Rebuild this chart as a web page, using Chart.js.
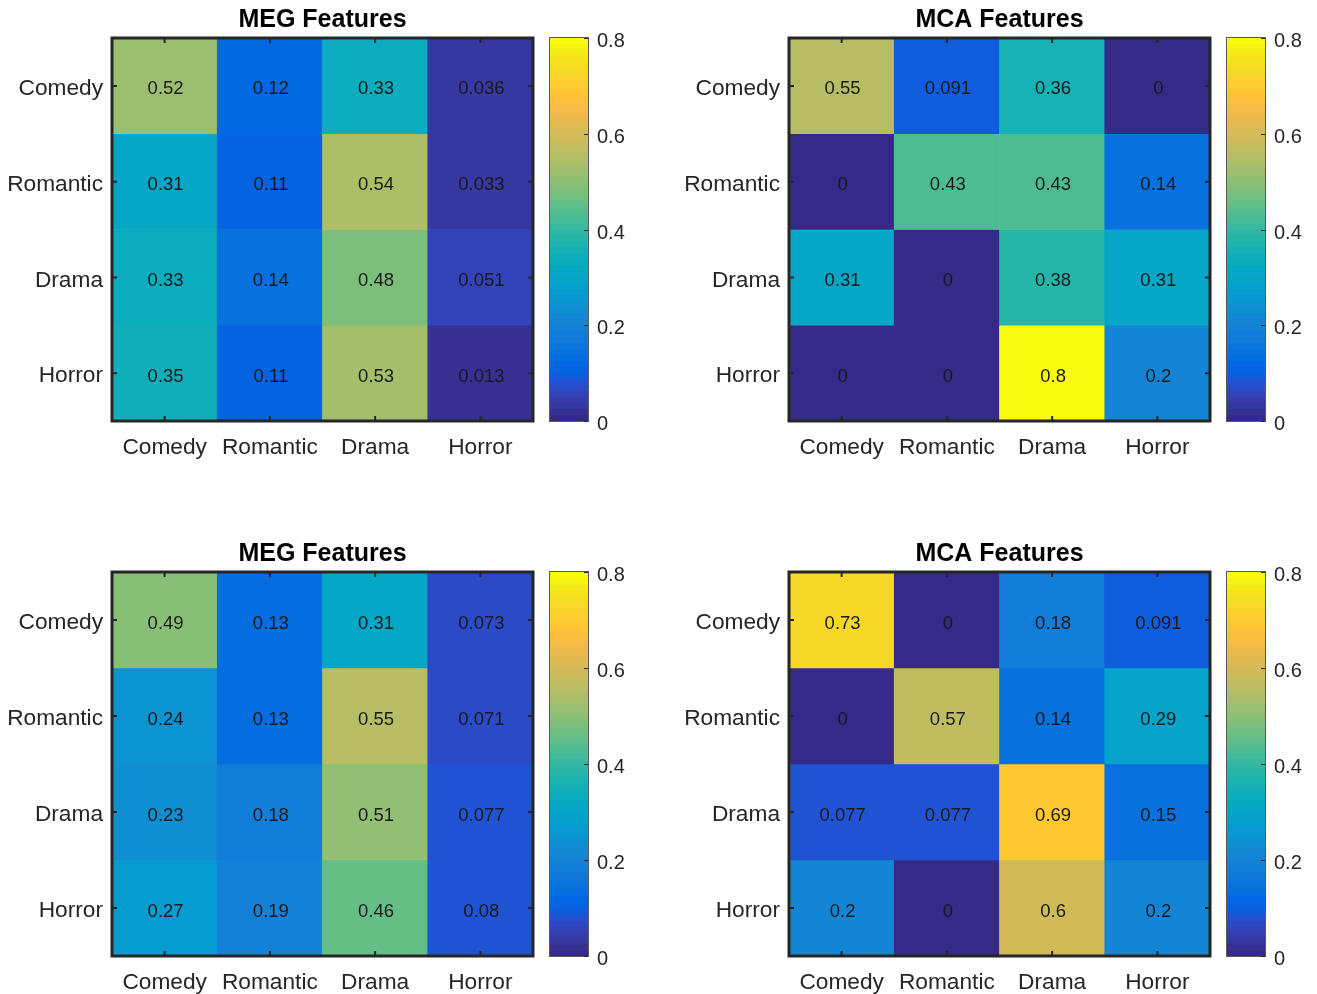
<!DOCTYPE html>
<html>
<head>
<meta charset="utf-8">
<script src="https://cdn.jsdelivr.net/npm/chart.js@4.4.1/dist/chart.umd.min.js"></script>
<style>
  html, body { margin: 0; padding: 0; background: #ffffff; }
  body { width: 1317px; height: 994px; position: relative; overflow: hidden; }
  canvas { position: absolute; display: block; }
</style>
</head>
<body>
<script>
// Category labels shared by both axes of every matrix
const genres = ['Comedy', 'Romantic', 'Drama', 'Horror'];

// Colour-bar tick values (the colour limits run from the first to the last)
const colorbarTicks = [0, 0.2, 0.4, 0.6, 0.8];

// Rows = true genre, columns = predicted genre
const megTop = [
  [0.52, 0.12, 0.33, 0.036],
  [0.31, 0.11, 0.54, 0.033],
  [0.33, 0.14, 0.48, 0.051],
  [0.35, 0.11, 0.53, 0.013]
];
const mcaTop = [
  [0.55, 0.091, 0.36, 0],
  [0, 0.43, 0.43, 0.14],
  [0.31, 0, 0.38, 0.31],
  [0, 0, 0.8, 0.2]
];
const megBottom = [
  [0.49, 0.13, 0.31, 0.073],
  [0.24, 0.13, 0.55, 0.071],
  [0.23, 0.18, 0.51, 0.077],
  [0.27, 0.19, 0.46, 0.08]
];
const mcaBottom = [
  [0.73, 0, 0.18, 0.091],
  [0, 0.57, 0.14, 0.29],
  [0.077, 0.077, 0.69, 0.15],
  [0.2, 0, 0.6, 0.2]
];

// 64-step parula colour map
const PARULA = [
[0.2081,0.1663,0.5292],[0.2116,0.1898,0.5777],[0.2123,0.2138,0.6270],[0.2081,0.2386,0.6771],
[0.1959,0.2645,0.7279],[0.1707,0.2919,0.7792],[0.1253,0.3242,0.8303],[0.0591,0.3598,0.8683],
[0.0117,0.3875,0.8820],[0.0060,0.4086,0.8828],[0.0165,0.4266,0.8786],[0.0329,0.4430,0.8720],
[0.0498,0.4586,0.8641],[0.0629,0.4737,0.8554],[0.0723,0.4887,0.8467],[0.0779,0.5040,0.8384],
[0.0793,0.5200,0.8312],[0.0749,0.5375,0.8263],[0.0641,0.5570,0.8240],[0.0488,0.5772,0.8228],
[0.0343,0.5966,0.8199],[0.0265,0.6137,0.8135],[0.0239,0.6287,0.8038],[0.0231,0.6418,0.7913],
[0.0228,0.6535,0.7768],[0.0267,0.6642,0.7607],[0.0384,0.6743,0.7436],[0.0590,0.6838,0.7254],
[0.0843,0.6928,0.7062],[0.1133,0.7015,0.6859],[0.1453,0.7098,0.6646],[0.1801,0.7177,0.6424],
[0.2178,0.7250,0.6193],[0.2586,0.7317,0.5954],[0.3022,0.7376,0.5712],[0.3482,0.7424,0.5473],
[0.3953,0.7459,0.5244],[0.4420,0.7481,0.5033],[0.4871,0.7491,0.4840],[0.5300,0.7491,0.4661],
[0.5709,0.7485,0.4494],[0.6099,0.7473,0.4337],[0.6473,0.7456,0.4188],[0.6834,0.7435,0.4044],
[0.7184,0.7411,0.3905],[0.7525,0.7384,0.3768],[0.7858,0.7356,0.3633],[0.8185,0.7327,0.3498],
[0.8507,0.7299,0.3360],[0.8824,0.7274,0.3217],[0.9139,0.7258,0.3063],[0.9450,0.7261,0.2886],
[0.9739,0.7314,0.2666],[0.9938,0.7455,0.2403],[0.9990,0.7653,0.2164],[0.9955,0.7861,0.1967],
[0.9880,0.8066,0.1794],[0.9789,0.8271,0.1633],[0.9697,0.8481,0.1475],[0.9626,0.8705,0.1309],
[0.9589,0.8949,0.1132],[0.9598,0.9218,0.0948],[0.9661,0.9514,0.0755],[0.9763,0.9831,0.0538]
];

const C_MIN = colorbarTicks[0];
const C_MAX = colorbarTicks[colorbarTicks.length - 1];
const FONT = '"Liberation Sans", Arial, Helvetica, sans-serif';
const INK = '#262626';

function rgb(c) {
  return 'rgb(' + c.map(v => Math.round(v * 255)).join(',') + ')';
}
function parula(v) {
  const n = PARULA.length;
  const i = Math.min(n - 1, Math.max(0, Math.floor((v - C_MIN) / (C_MAX - C_MIN) * n)));
  return rgb(PARULA[i]);
}

// Cell values, inward tick marks and the heavy axes box
const heatDecor = {
  id: 'heatDecor',
  afterDatasetsDraw(chart) {
    const ctx = chart.ctx;
    ctx.save();
    ctx.font = '18.5px ' + FONT;
    ctx.fillStyle = '#1a1a1a';
    ctx.textAlign = 'center';
    ctx.textBaseline = 'middle';
    chart.data.datasets.forEach((ds, r) => {
      chart.getDatasetMeta(r).data.forEach((bar, c) => {
        ctx.fillText(String(ds.values[c]), bar.x + 1, (bar.y + bar.base) / 2 + 3.5);
      });
    });
    ctx.restore();
  },
  afterDraw(chart) {
    const ctx = chart.ctx;
    const a = chart.chartArea;
    const xs = chart.scales.x, ys = chart.scales.y;
    ctx.save();
    ctx.strokeStyle = INK;
    ctx.lineWidth = 2;
    const len = 5;
    genres.forEach((g, i) => {
      const px = xs.getPixelForValue(i);
      ctx.beginPath();
      ctx.moveTo(px, a.top); ctx.lineTo(px, a.top + len);
      ctx.moveTo(px, a.bottom); ctx.lineTo(px, a.bottom - len);
      ctx.stroke();
      const py = ys.getPixelForValue(i + 0.5);
      ctx.beginPath();
      ctx.moveTo(a.left, py); ctx.lineTo(a.left + len, py);
      ctx.moveTo(a.right, py); ctx.lineTo(a.right - len, py);
      ctx.stroke();
    });
    ctx.lineWidth = 3;
    ctx.strokeRect(a.left, a.top, a.right - a.left, a.bottom - a.top);
    ctx.restore();
  }
};

// Outline and right-hand tick marks of the colour bar
const barDecor = {
  id: 'barDecor',
  afterDraw(chart) {
    const ctx = chart.ctx;
    const a = chart.chartArea;
    const ys = chart.scales.y;
    ctx.save();
    ctx.strokeStyle = '#5a5a5a';
    ctx.lineWidth = 1;
    ctx.strokeRect(a.left - 0.5, a.top - 0.5, a.right - a.left + 1, a.bottom - a.top + 1);
    ctx.strokeStyle = INK;
    colorbarTicks.forEach(v => {
      const py = Math.round(ys.getPixelForValue(v)) + 0.5;
      ctx.beginPath();
      ctx.moveTo(a.right, py); ctx.lineTo(a.right - 4, py);
      ctx.stroke();
    });
    ctx.restore();
  }
};

function makeCanvas(left, top, w, h) {
  const cv = document.createElement('canvas');
  cv.width = w; cv.height = h;
  cv.style.left = left + 'px'; cv.style.top = top + 'px';
  cv.style.width = w + 'px'; cv.style.height = h + 'px';
  document.body.appendChild(cv);
  return cv;
}

function heatChart(p) {
  const TITLE_H = 38, XAXIS_H = 54, YAXIS_W = 112, RIGHT_PAD = 12, PLOT_W = 421;
  const cv = makeCanvas(p.x, p.y, YAXIS_W + PLOT_W + RIGHT_PAD, TITLE_H + p.h + XAXIS_H);
  return new Chart(cv, {
    type: 'bar',
    data: {
      labels: genres,
      datasets: p.values.map((row, r) => ({
        label: genres[r],
        data: row.map(() => 1),
        values: row,
        backgroundColor: row.map(parula),
        borderWidth: 0,
        barPercentage: 1,
        categoryPercentage: 1
      }))
    },
    options: {
      responsive: false,
      animation: false,
      devicePixelRatio: 1,
      layout: { padding: { left: 0, top: 0, right: RIGHT_PAD, bottom: 0 } },
      plugins: {
        legend: { display: false },
        tooltip: { enabled: false },
        title: {
          display: true,
          text: p.title,
          fullSize: false,
          color: '#000000',
          font: { family: FONT, size: 25, weight: 'bold', lineHeight: 1.2 },
          padding: { top: 5, bottom: 3 }
        }
      },
      scales: {
        x: {
          stacked: true,
          grid: { display: false, drawTicks: false },
          border: { display: false },
          ticks: { color: INK, font: { family: FONT, size: 22.7 }, padding: 13.5, autoSkip: false, maxRotation: 0 },
          afterFit(s) { s.height = XAXIS_H; }
        },
        y: {
          type: 'linear',
          stacked: true,
          min: 0,
          max: genres.length,
          reverse: true,
          grid: { display: false, drawTicks: false },
          border: { display: false },
          // labels sit a touch below the row centre
          afterBuildTicks(s) { s.ticks = genres.map((g, i) => ({ value: i + 0.53 })); },
          ticks: {
            color: INK, font: { family: FONT, size: 22.7 }, padding: 9, autoSkip: false,
            callback: v => genres[Math.floor(v)]
          },
          afterFit(s) { s.width = YAXIS_W; }
        }
      }
    },
    plugins: [heatDecor]
  });
}

function colorbarChart(left, top, plotH) {
  const cv = makeCanvas(left, top, 100, 38 + plotH + 54);
  return new Chart(cv, {
    type: 'bar',
    data: {
      labels: [''],
      datasets: [{
        data: [C_MAX],
        borderWidth: 0,
        barPercentage: 1,
        categoryPercentage: 1,
        backgroundColor(ctx) {
          const a = ctx.chart.chartArea;
          if (!a) return parula(C_MIN);
          const g = ctx.chart.ctx.createLinearGradient(0, a.bottom, 0, a.top);
          const n = PARULA.length;
          PARULA.forEach((c, i) => {
            const s = rgb(c);
            g.addColorStop(i / n, s);
            g.addColorStop((i + 1) / n, s);
          });
          return g;
        }
      }]
    },
    options: {
      responsive: false,
      animation: false,
      devicePixelRatio: 1,
      layout: { padding: { left: 10, top: 38, right: 0, bottom: 54 } },
      plugins: { legend: { display: false }, tooltip: { enabled: false } },
      scales: {
        x: { display: false },
        y: {
          position: 'right',
          min: C_MIN,
          max: C_MAX,
          grid: { display: false, drawTicks: false },
          border: { display: false },
          // labels sit a few pixels below their tick marks
          afterBuildTicks(s) {
            const nudge = (C_MAX - C_MIN) * 3.5 / plotH;
            s.ticks = colorbarTicks.map(v => ({ value: v - nudge }));
          },
          ticks: {
            color: INK, font: { family: FONT, size: 20 }, padding: 9,
            callback: (v, i) => String(colorbarTicks[i])
          },
          afterFit(s) { s.width = 52; }
        }
      }
    },
    plugins: [barDecor]
  });
}

const panels = [
  { title: 'MEG Features', values: megTop,    x: 0,   y: 0,   h: 383 },
  { title: 'MCA Features', values: mcaTop,    x: 677, y: 0,   h: 383 },
  { title: 'MEG Features', values: megBottom, x: 0,   y: 534, h: 384 },
  { title: 'MCA Features', values: mcaBottom, x: 677, y: 534, h: 384 }
];

panels.forEach(p => {
  heatChart(p);
  colorbarChart(p.x + 540, p.y, p.h);
});
</script>
</body>
</html>
